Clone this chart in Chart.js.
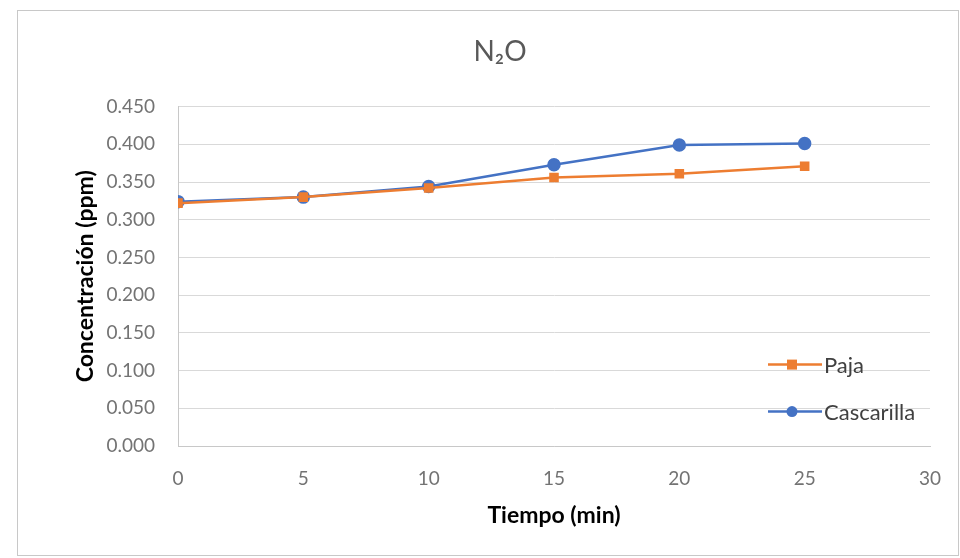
<!DOCTYPE html>
<html>
<head>
<meta charset="utf-8">
<script src="https://cdn.jsdelivr.net/npm/chart.js@4.4.1/dist/chart.umd.min.js"></script>
<style>
    html, body { margin: 0; padding: 0; background: #fff; overflow: hidden; }
    #frame { position: absolute; left: 17px; top: 10px; width: 942px; height: 546px; border: 1px solid #c8c8c8; box-sizing: border-box; }
    #wrap { position: absolute; left: 0; top: 0; width: 960px; height: 558px; }
</style>
</head>
<body>
<div id="frame"></div>
<div id="wrap"><canvas id="n2oChart" width="960" height="558"></canvas></div>
<script>
// tiempo (min)
const tiempos = [0, 5, 10, 15, 20, 25];
// concentración (ppm)
const paja = [0.322, 0.330, 0.342, 0.356, 0.361, 0.371];
const cascarilla = [0.324, 0.330, 0.344, 0.373, 0.399, 0.401];

const seriesNames = ["Paja", "Cascarilla"];
const seriesColors = ["#ED7D31", "#4472C4"];

const toPoints = (values) => values.map((v, i) => ({ x: tiempos[i], y: v }));

// leyenda dentro del área del gráfico, como en Excel
const insideLegend = {
    id: "insideLegend",
    afterDraw(chart) {
        const { ctx, chartArea } = chart;
        const x0 = chartArea.right - 162;
        const rows = [chartArea.top + 258, chartArea.top + 305];
        chart.data.datasets.forEach((ds, i) => {
            const y = rows[i];
            ctx.save();
            ctx.strokeStyle = ds.borderColor;
            ctx.lineWidth = 2.5;
            ctx.beginPath();
            ctx.moveTo(x0, y);
            ctx.lineTo(x0 + 54, y);
            ctx.stroke();
            ctx.fillStyle = ds.backgroundColor;
            if (ds.pointStyle === "rect") {
                ctx.fillRect(x0 + 19, y - 5, 10, 10);
            } else {
                ctx.beginPath();
                ctx.arc(x0 + 24, y, 5.5, 0, Math.PI * 2);
                ctx.fill();
            }
            ctx.fillStyle = "#404040";
            ctx.font = "22px Lato";
            ctx.textBaseline = "middle";
            ctx.fillText(ds.label, x0 + 56, y + 1);
            ctx.restore();
        });
    },
};

new Chart(document.getElementById("n2oChart"), {
    type: "line",
    data: {
        datasets: [
            {
                label: seriesNames[0],
                data: toPoints(paja),
                borderColor: seriesColors[0],
                backgroundColor: seriesColors[0],
                borderWidth: 2.5,
                pointStyle: "rect",
                pointRadius: 5,
                pointHoverRadius: 5,
            },
            {
                label: seriesNames[1],
                data: toPoints(cascarilla),
                borderColor: seriesColors[1],
                backgroundColor: seriesColors[1],
                borderWidth: 2.5,
                pointStyle: "circle",
                pointRadius: 5.5,
                pointHoverRadius: 5.5,
            },
        ],
    },
    options: {
        responsive: false,
        animation: false,
        // left padding keeps the title centred on the framed chart
        layout: { padding: { top: 0, right: 30, bottom: 0, left: 70 } },
        plugins: {
            legend: { display: false },
            tooltip: { enabled: false },
            title: {
                display: true,
                text: "N₂O",
                color: "#595959",
                font: { family: "Lato", size: 28, weight: "normal" },
                padding: { top: 35, bottom: 38 },
            },
        },
        scales: {
            x: {
                type: "linear",
                min: 0,
                max: 30,
                ticks: {
                    stepSize: 5,
                    color: "#737373",
                    font: { family: "Lato", size: 19 },
                    padding: 13,
                },
                grid: { display: false },
                border: { display: true, color: "#c8c8c8" },
                title: {
                    display: true,
                    text: "Tiempo (min)",
                    color: "#000",
                    font: { family: "Lato", size: 23, weight: "bold" },
                    padding: { top: 0, bottom: 29 },
                },
                afterFit(scale) { scale.height = 112; },
            },
            y: {
                min: 0,
                max: 0.45,
                ticks: {
                    stepSize: 0.05,
                    color: "#737373",
                    font: { family: "Lato", size: 19 },
                    padding: 23,
                    callback: (v) => v.toFixed(3),
                },
                grid: { color: "#d9d9d9", drawTicks: false },
                border: { display: true, color: "#c8c8c8" },
                title: {
                    display: true,
                    text: "Concentración (ppm)",
                    color: "#000",
                    font: { family: "Lato", size: 23, weight: "bold" },
                    padding: { top: 2, bottom: 0 },
                },
                afterFit(scale) { scale.width = 108; },
            },
        },
    },
    plugins: [insideLegend],
});
</script>
</body>
</html>
